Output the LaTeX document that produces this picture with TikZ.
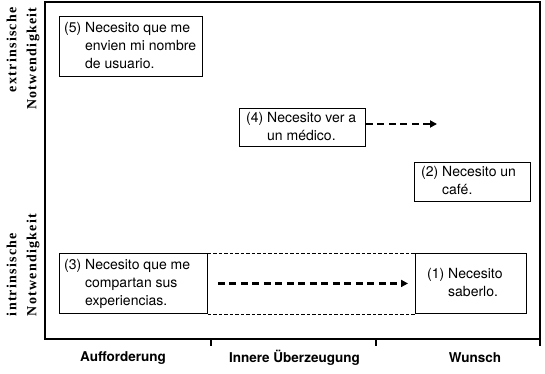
\documentclass[tikz,border=0pt]{standalone}
\usepackage{fontspec}
\setmainfont{TeX Gyre Heros}
\newfontfamily\lblfont[LetterSpace=9]{Liberation Serif}
\usetikzlibrary{arrows.meta}
\newcommand{\hangtab}[2]{\begin{tabular}{@{}l@{\ }l@{}}#1 & #2\end{tabular}}
\begin{document}
\begin{tikzpicture}[x=1pt,y=-1pt,
  box/.style={draw, line width=0.9pt, anchor=north west, inner sep=0pt},
  btxt/.style={anchor=west, inner sep=0pt, align=left, font=\fontsize{14}{18}\selectfont},
  frame/.style={line width=1.2pt},
  darr/.style={line width=2.2pt, dash pattern=on 7pt off 4.5pt, -{Triangle[length=7pt,width=7pt]}},
  thindash/.style={line width=0.6pt, dash pattern=on 3.5pt off 2pt},
  axl/.style={font=\bfseries\fontsize{13.5}{16}\selectfont, inner sep=0pt},
  vlbl/.style={rotate=90, inner sep=0pt, font=\lblfont\bfseries\fontsize{14}{20}\selectfont}]
\useasboundingbox (0,0) rectangle (545,374);
% frame and ticks
\draw[frame] (45,2) rectangle (540,339);
\draw[frame] (211,339) -- (211,346);
\draw[frame] (376,339) -- (376,346);
\draw[frame] (540,339) -- (540,346);
% boxes
\node[box, minimum width=143pt, minimum height=60pt] (b5) at (59,16) {};
\node[btxt] (b5t) at ([xshift=5pt]b5.west)
  {\hangtab{(5)}{Necesito que me\\ & envien mi nombre\\ & de usuario.}};
\node[box, minimum width=126pt, minimum height=38pt] (b4) at (239,108) {};
\node[btxt] (b4t) at ([xshift=7pt]b4.west)
  {\hangtab{(4)}{Necesito ver a\\ & un médico.}};
\node[box, minimum width=116pt, minimum height=39pt] (b2) at (414,162) {};
\node[btxt] (b2t) at ([xshift=7pt]b2.west)
  {\hangtab{(2)}{Necesito un\\ & café.}};
\node[box, minimum width=148pt, minimum height=60pt] (b3) at (59,253) {};
\node[btxt] (b3t) at ([xshift=5pt]b3.west)
  {\hangtab{(3)}{Necesito que me\\ & compartan sus\\ & experiencias.}};
\node[box, minimum width=111pt, minimum height=60pt] (b1) at (415,253) {};
\node[btxt] (b1t) at ([xshift=12pt]b1.west)
  {\hangtab{(1)}{Necesito\\ & saberlo.}};
% dashed band
\draw[thindash] (b3.north east) -- (b1.north west);
\draw[thindash] (b3.south east) -- (b1.south west);
% arrows
\coordinate (t4) at (437,124);
\draw[darr] (b4.east |- t4) -- (t4);
\draw[darr, shorten <=10pt, shorten >=7pt] (b3.east) -- (b1.west);
% axis labels
\node[axl] (ax1) at (123,358) {Aufforderung};
\node[axl] (ax2) at (294.5,358) {Innere Überzeugung};
\node[axl] (ax3) at (475,358) {Wunsch};
\node[vlbl, align=right] (v1) at (23,58.5) {extrinsische\\Notwendigkeit};
\node[vlbl, align=left] (v2) at (23,265) {intrinsische\\Notwendigkeit};
\end{tikzpicture}
\end{document}
